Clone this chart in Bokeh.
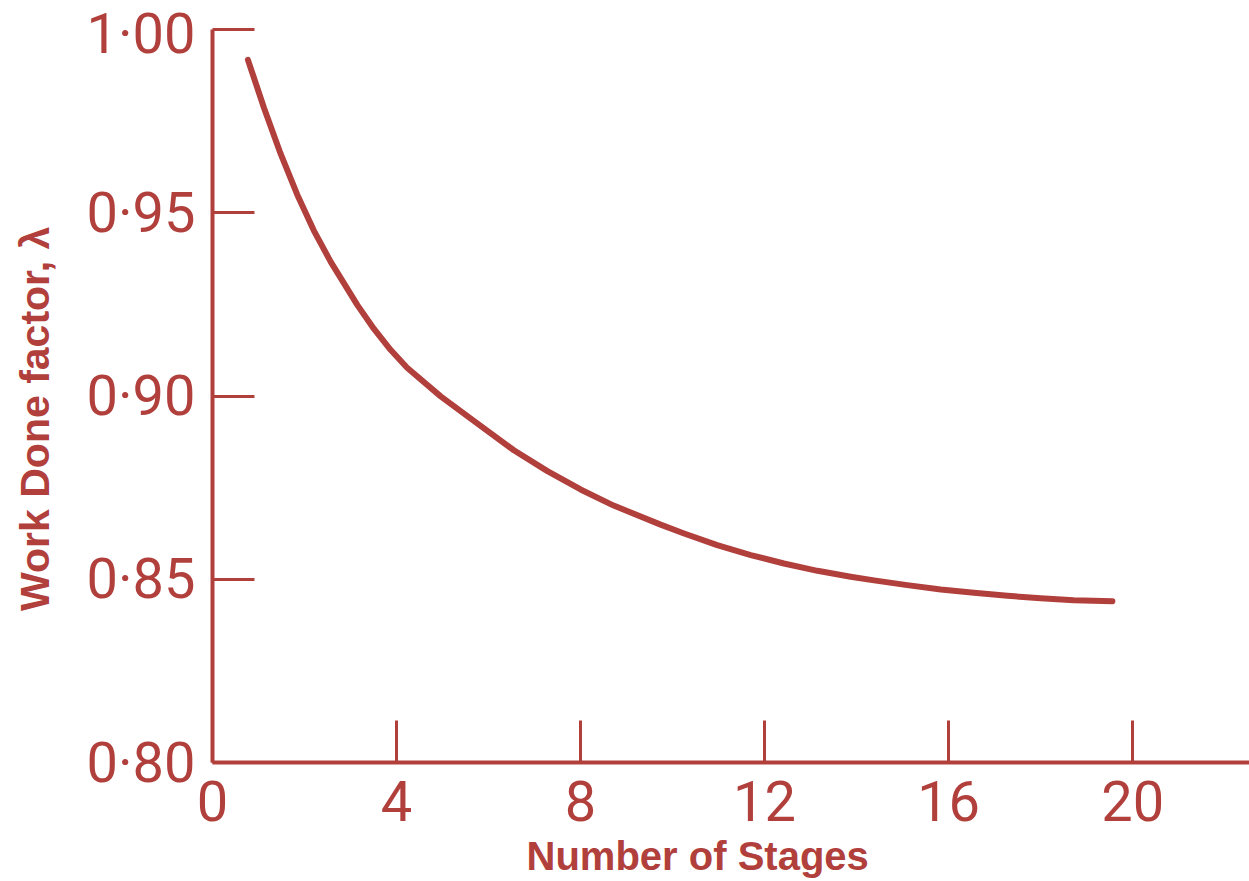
from bokeh.plotting import figure
from bokeh.models import Range1d, FixedTicker
from bokeh.embed import file_html
from bokeh.resources import INLINE

# ---- data ----
stages = [0.77, 1.12, 1.48, 1.84, 2.20, 2.57, 3.15, 3.51, 3.87, 4.23, 4.96, 5.68,
          6.55, 7.28, 8.00, 8.72, 9.74, 10.25, 10.97, 11.70, 12.42, 13.15, 13.87,
          14.38, 15.10, 15.83, 16.55, 17.28, 18.00, 18.72, 19.56]
work_done_factor = [0.9917, 0.9786, 0.9661, 0.9550, 0.9452, 0.9366, 0.9248, 0.9183,
                    0.9126, 0.9077, 0.8999, 0.8932, 0.8852, 0.8795, 0.8745, 0.8701,
                    0.8649, 0.8625, 0.8593, 0.8566, 0.8543, 0.8523, 0.8507, 0.8497,
                    0.8484, 0.8472, 0.8463, 0.8455, 0.8448, 0.8443, 0.8440]
x_ticks = [0, 4, 8, 12, 16, 20]
x_tick_labels = ["0", "4", "8", "12", "16", "20"]
y_ticks = [0.80, 0.85, 0.90, 0.95, 1.00]
y_tick_labels = ["0·80", "0·85", "0·90", "0·95", "1·00"]
x_title = "Number of Stages"
y_title = "Work Done factor, λ"

RED = "#b1403c"
TICK_FONT = "Roboto"
TITLE_FONT = "Liberation Sans"
NBSP = "\u00a0"

p = figure(width=1249, height=881,
           x_range=Range1d(0, 22.54), y_range=Range1d(0.80, 1.00),
           output_backend="svg", toolbar_location=None,
           min_border_left=212, min_border_right=0,
           min_border_top=29, min_border_bottom=119)
p.outline_line_color = None
p.xgrid.visible = False
p.ygrid.visible = False
p.background_fill_color = "white"
p.border_fill_color = "white"

p.line(stages, work_done_factor, line_color=RED, line_width=6,
       line_cap="round", line_join="round")

for ax, ticks, labels in ((p.xaxis[0], x_ticks, x_tick_labels),
                          (p.yaxis[0], y_ticks, y_tick_labels)):
    ax.ticker = FixedTicker(ticks=ticks)
    ax.major_label_overrides = {t: l for t, l in zip(ticks, labels)}
    ax.axis_line_color = RED
    ax.axis_line_width = 4
    ax.major_tick_line_color = RED
    ax.major_tick_line_width = 3
    ax.major_tick_in = 42
    ax.major_tick_out = 0
    ax.minor_tick_line_color = None
    ax.major_label_text_color = RED
    ax.major_label_text_font = TICK_FONT
    ax.major_label_text_font_size = "56px"
    ax.axis_label_text_color = RED
    ax.axis_label_text_font = TITLE_FONT
    ax.axis_label_text_font_style = "bold"

p.xaxis.major_label_standoff = 18
p.yaxis.major_label_standoff = 17

p.xaxis.axis_label = x_title + NBSP * 6
p.xaxis.axis_label_text_font_size = "40px"
p.xaxis.axis_label_standoff = 10
p.yaxis.axis_label = y_title + NBSP * 4
p.yaxis.axis_label_text_font_size = "41px"
p.yaxis.axis_label_standoff = 25

open("out.html", "w").write(file_html(p, INLINE))
